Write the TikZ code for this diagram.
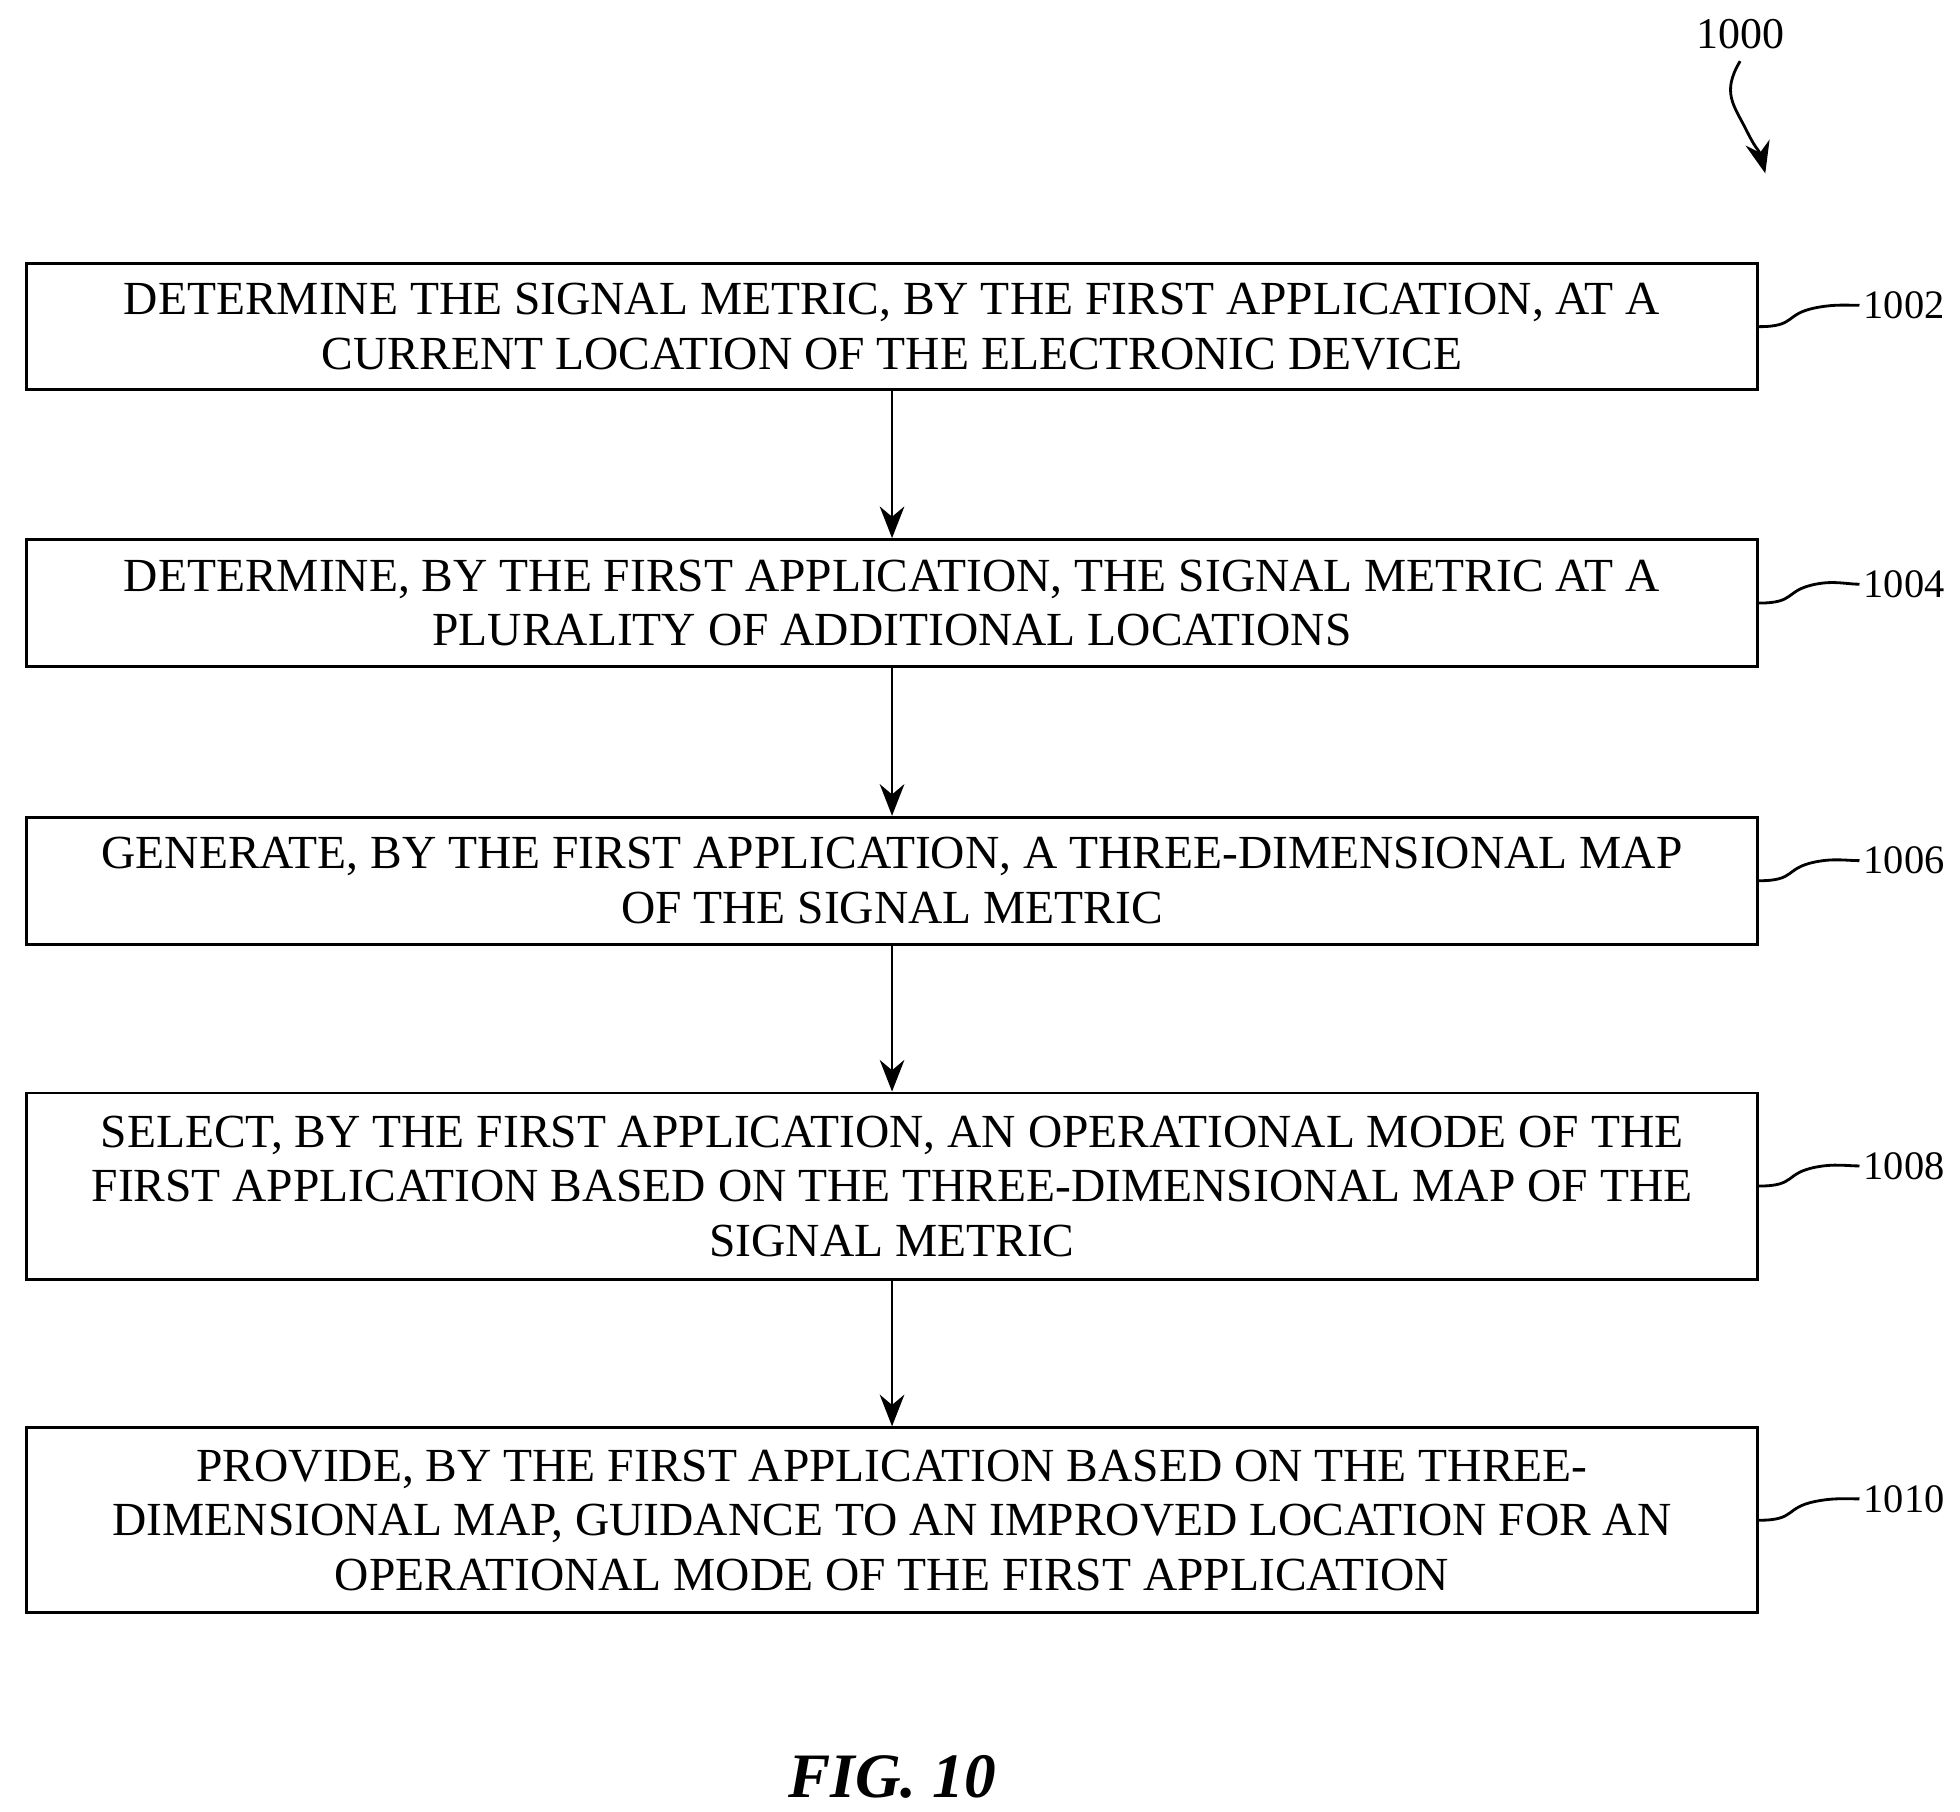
\documentclass[tikz,border=0pt]{standalone}
\usepackage{fontspec}
\setmainfont{Liberation Serif}
\usetikzlibrary{arrows.meta}
\tikzset{
  stepbox/.style={draw,thick,minimum width=17.3cm,align=center,font=\fontsize{13.5}{15.5}\selectfont,inner sep=0pt},
  ref/.style={font=\fontsize{11.5}{13}\selectfont,anchor=west,inner sep=1pt},
  flow/.style={thick,-{Stealth[length=9pt,width=7pt]}}
}
\begin{document}
\begin{tikzpicture}[x=0.01256cm,y=-0.01256cm]
			\useasboundingbox (0,0) rectangle (1560,1442);
			
			% Steps
			\node[stepbox,minimum height=1.256cm] (s1002) at (710,260) {DETERMINE THE SIGNAL METRIC, BY THE FIRST APPLICATION, AT A\\CURRENT LOCATION OF THE ELECTRONIC DEVICE};
			\node[stepbox,minimum height=1.27cm] (s1004) at (710,480) {DETERMINE, BY THE FIRST APPLICATION, THE SIGNAL METRIC AT A\\PLURALITY OF ADDITIONAL LOCATIONS};
			\node[stepbox,minimum height=1.27cm] (s1006) at (710,701) {GENERATE, BY THE FIRST APPLICATION, A THREE-DIMENSIONAL MAP\\OF THE SIGNAL METRIC};
			\node[stepbox,minimum height=1.86cm] (s1008) at (710,944) {SELECT, BY THE FIRST APPLICATION, AN OPERATIONAL MODE OF THE\\FIRST APPLICATION BASED ON THE THREE-DIMENSIONAL MAP OF THE\\SIGNAL METRIC};
			\node[stepbox,minimum height=1.85cm] (s1010) at (710,1210) {PROVIDE, BY THE FIRST APPLICATION BASED ON THE THREE-\\DIMENSIONAL MAP, GUIDANCE TO AN IMPROVED LOCATION FOR AN\\OPERATIONAL MODE OF THE FIRST APPLICATION};
			
			% Arrows
			\draw[flow] (s1002) -- (s1004);
			\draw[flow] (s1004) -- (s1006);
			\draw[flow] (s1006) -- (s1008);
			\draw[flow] (s1008) -- (s1010);
			
			% Reference numerals
			\foreach \n/\y in {1002/243,1004/465,1006/685,1008/928,1010/1193}{
				\node[ref] (r\n) at (1480,\y) {\n};
				\draw[thick] (s\n.east) .. controls +(30,0) and +(-25,5) .. ++(45,-15) .. controls +(15,-3) and +(-10,0) .. (r\n.west);
			}
			
			\node[font=\fontsize{12.5}{14}\selectfont] (r1000) at (1385,27) {1000};
			\coordinate (t1000) at (1405,138);
			\draw[thick,-{Stealth[length=9pt,width=7pt]}] (r1000.south) .. controls +(-15,25) and +(-10,-20) .. ++(5,55) .. controls +(10,20) and +(-5,-20) .. (t1000);
			
			% Caption
			\node[font=\fontsize{18}{20}\selectfont\bfseries\itshape] (fig) at (710,1414) {FIG. 10};
\end{tikzpicture}
\end{document}
